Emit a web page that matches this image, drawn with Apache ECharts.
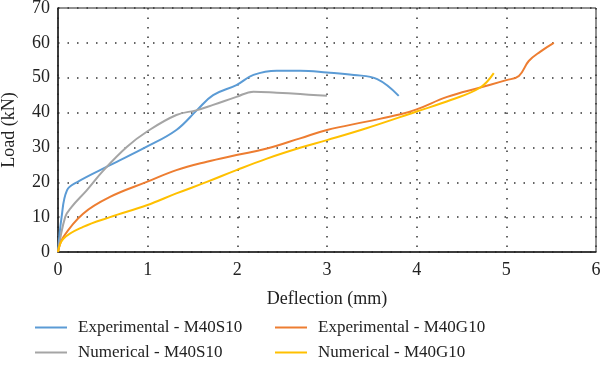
<!DOCTYPE html>
<html><head><meta charset="utf-8">
<script src="https://cdn.jsdelivr.net/npm/echarts@6/dist/echarts.min.js"></script>
<style>html,body{margin:0;padding:0;background:#fff}#c{width:600px;height:371px}</style>
</head><body><div id="c"></div>
<script>
const xTicks = [0,1,2,3,4,5,6];
const yTicks = [0,10,20,30,40,50,60,70];
const expS10 = [[0,0],[0.04,10],[0.1,17.7],[0.21,20],[0.58,24.9],[0.99,30.2],[1.32,35],[1.55,40.7],[1.73,45],[1.99,47.9],[2.18,50.8],[2.44,52],[2.7,52],[3.0,51.5],[3.3,50.8],[3.56,49.6],[3.8,44.8]];
const numS10 = [[0,0],[0.08,10],[0.15,12.9],[0.32,17.7],[0.51,23.5],[0.77,30.2],[0.99,34.5],[1.32,39.3],[1.55,40.7],[1.73,42.2],[1.99,44.5],[2.18,46],[2.44,45.7],[2.7,45.3],[3.0,44.8]];
const expG10 = [[0,0],[0.06,4.3],[0.28,11],[0.58,15.8],[0.99,20.1],[1.32,23.5],[1.66,25.9],[1.99,27.8],[2.33,29.7],[2.7,32.6],[3.0,35],[3.44,37.4],[3.82,39.5],[4.0,40.9],[4.34,44.5],[4.71,47.2],[5.0,49.3],[5.14,50.5],[5.25,54.8],[5.38,57.5],[5.53,60]];
const numG10 = [[0,0],[0.06,3.8],[0.28,7.2],[0.58,10],[0.99,13.4],[1.32,16.8],[1.66,20.1],[1.99,23.5],[2.33,26.8],[2.7,29.9],[3.0,32.1],[3.44,35.5],[4.0,40.3],[4.38,43.6],[4.71,47.2],[4.86,51.3]];
const names = ['Experimental - M40S10','Numerical - M40S10','Experimental - M40G10','Numerical - M40G10'];
const colors = ['#5B9BD5','#A5A5A5','#ED7D31','#FFC000'];
const font = 'Liberation Serif';
const chart = echarts.init(document.getElementById('c'));
const mk = (i, d) => ({name:names[i], type:'line', data:d, smooth:0.4, showSymbol:false, lineStyle:{width:2, color:colors[i]}, itemStyle:{color:colors[i]}});
const legendBase = {orient:'vertical', itemWidth:32, itemHeight:2, icon:'rect', itemGap:8,
  textStyle:{fontFamily:font, fontSize:17, color:'#222', padding:[0,0,0,6]}};
chart.setOption({
  animation:false,
  grid:{left:58, top:8, right:4, bottom:119, show:true, borderColor:'#222', borderWidth:1, containLabel:false, outerBoundsMode:'none'},
  xAxis:{type:'value', min:0, max:6, interval:1, name:'Deflection (mm)', nameLocation:'middle', nameGap:38,
    nameTextStyle:{fontFamily:font, fontSize:18, color:'#222'},
    axisLine:{lineStyle:{color:'#222', width:1.5}}, axisTick:{show:false},
    axisLabel:{fontFamily:font, fontSize:18, color:'#222', margin:9},
    splitLine:{lineStyle:{type:[1.5,8], color:'#333', width:1.5}}},
  yAxis:{type:'value', min:0, max:70, interval:10, name:'Load (kN)', nameLocation:'middle', nameGap:40,
    nameTextStyle:{fontFamily:font, fontSize:18, color:'#222'},
    axisLine:{show:true, lineStyle:{color:'#222', width:1.5}}, axisTick:{show:false},
    axisLabel:{fontFamily:font, fontSize:18, color:'#222', margin:8},
    splitLine:{lineStyle:{type:[1.5,8], color:'#333', width:1.5}}},
  legend:[
    Object.assign({left:30, top:314, data:[names[0],names[1]]}, legendBase),
    Object.assign({left:270, top:314, data:[names[2],names[3]]}, legendBase)
  ],
  series:[mk(0,expS10), mk(1,numS10), mk(2,expG10), mk(3,numG10)]
});
</script></body></html>
